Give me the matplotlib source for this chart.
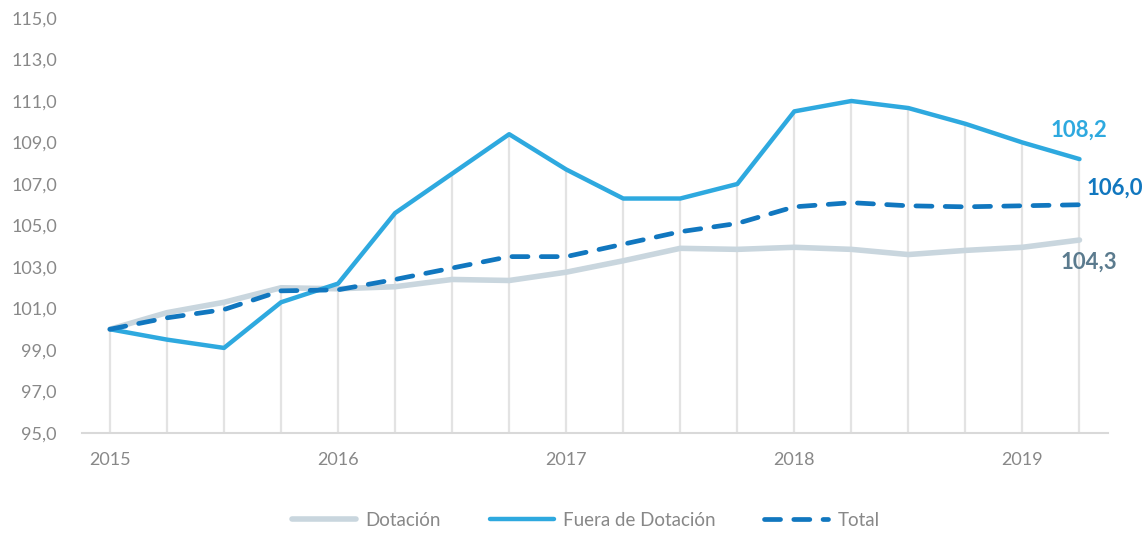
import matplotlib
matplotlib.use("Agg")
import matplotlib.pyplot as plt
import numpy as np

plt.rcParams['font.family'] = ['Lato', 'DejaVu Sans']

periods = ["2015", "", "", "", "2016", "", "", "", "2017", "", "", "", "2018", "", "", "", "2019", ""]
dotacion = [100.0, 100.8, 101.3, 102.0, 101.95, 102.05, 102.4, 102.35, 102.75, 103.3,
            103.9, 103.85, 103.95, 103.85, 103.6, 103.8, 103.95, 104.3]
fuera = [100.0, 99.5, 99.1, 101.3, 102.2, 105.6, 107.5, 109.4, 107.7, 106.3,
         106.3, 107.0, 110.5, 111.0, 110.66, 109.9, 109.0, 108.2]
total = [100.0, 100.55, 100.95, 101.85, 101.9, 102.4, 102.95, 103.5, 103.5, 104.1,
         104.7, 105.1, 105.9, 106.1, 105.95, 105.9, 105.95, 106.0]
yticks = [95, 97, 99, 101, 103, 105, 107, 109, 111, 113, 115]

c_dot = "#C9D6DE"
c_fue = "#2EA9DF"
c_tot = "#1177BF"
c_dot_lbl = "#5B7B8E"
grey = "#888888"

fig = plt.figure(figsize=(11.46, 5.34), dpi=100)
ax = fig.add_axes([82/1146, 1-433/534, (1108-82)/1146, (433-18)/534])

x = np.arange(len(periods))
tops = np.maximum(np.maximum(dotacion, fuera), total)
ax.vlines(x, 95, tops, color="#E3E3E3", lw=1.6, zorder=1)

ax.plot(x, dotacion, color=c_dot, lw=4.0, solid_capstyle='round', zorder=2, label="Dotación")
ax.plot(x, fuera, color=c_fue, lw=3.2, solid_capstyle='round', zorder=3, label="Fuera de Dotación")
ax.plot(x, total, color=c_tot, lw=3.4, dashes=(3.4, 2.8), dash_capstyle='round', zorder=4, label="Total")

ax.set_xlim(-0.49, len(x) - 1 + 0.5)
ax.set_ylim(95, 115)
ax.set_yticks(yticks)
ax.set_yticklabels([f"{v:.1f}".replace('.', ',') for v in yticks])
ax.set_xticks(x)
ax.set_xticklabels(periods)

for s in ['top', 'right', 'left']:
    ax.spines[s].set_visible(False)
ax.spines['bottom'].set_color("#D9D9D9")
ax.spines['bottom'].set_linewidth(1.5)
ax.tick_params(axis='both', length=0, colors=grey, labelsize=13)
ax.tick_params(axis='y', pad=18)
ax.tick_params(axis='x', pad=14)

last = len(x) - 1
ax.annotate(f"{fuera[-1]:.1f}".replace('.', ','), (last, fuera[-1]), xytext=(-1, 29),
            textcoords='offset pixels', ha='center', va='center', color=c_fue,
            fontsize=16, fontweight='bold')
ax.annotate(f"{total[-1]:.1f}".replace('.', ','), (last, total[-1]), xytext=(35, 17),
            textcoords='offset pixels', ha='center', va='center', color=c_tot,
            fontsize=16, fontweight='bold')
ax.annotate(f"{dotacion[-1]:.1f}".replace('.', ','), (last, dotacion[-1]), xytext=(9, -22),
            textcoords='offset pixels', ha='center', va='center', color=c_dot_lbl,
            fontsize=16, fontweight='bold')

fig.legend(loc='center', bbox_to_anchor=(586/1146, 1-520/534), ncol=3, frameon=False,
           labelcolor=grey, handlelength=3.4, columnspacing=2.6,
           handletextpad=0.5, prop={'size': 13.5})

fig.savefig("out.png", dpi=100)
